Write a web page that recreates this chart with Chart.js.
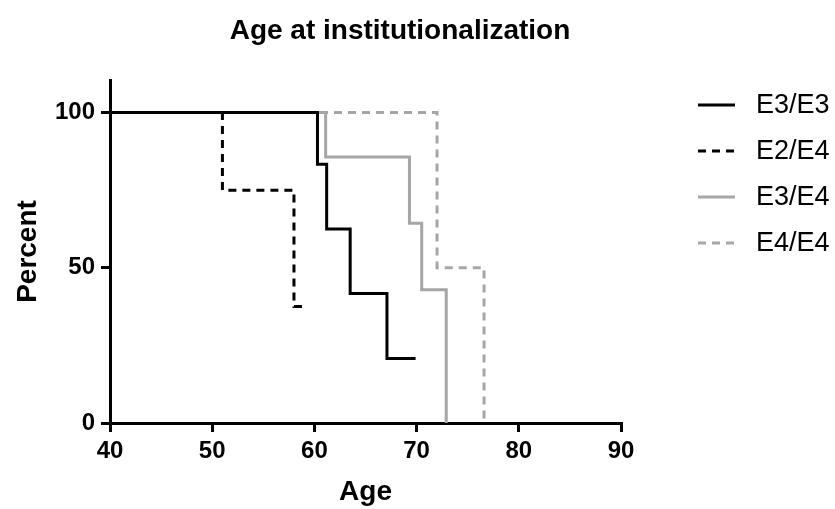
<!DOCTYPE html>
<html>
<head>
<meta charset="utf-8">
<script src="https://cdn.jsdelivr.net/npm/chart.js@4"></script>
<style>
  html, body { margin: 0; padding: 0; background: #fff; }
  #wrap { width: 835px; height: 509px; position: relative; }
</style>
</head>
<body>
<div id="wrap"><canvas id="c"></canvas></div>
<script>
// Kaplan-Meier style step curves, age at institutionalization by APOE genotype

const seriesNames = ['E3/E3', 'E2/E4', 'E3/E4', 'E4/E4'];

const ageE3E3 = [40, 60.3, 61.2, 63.5, 67.1, 69.9];
const pctE3E3 = [100, 83.3, 62.5, 41.7, 20.8, 20.8];

const ageE2E4 = [40, 51.0, 58.0, 59.3];
const pctE2E4 = [100, 75, 37.5, 37.5];

const ageE3E4 = [40, 61.1, 69.3, 70.5, 72.9];
const pctE3E4 = [100, 85.7, 64.3, 42.9, 0];

const ageE4E4 = [40, 72.0, 76.6];
const pctE4E4 = [100, 50, 0];

const xTicks = [40, 50, 60, 70, 80, 90];
const yTicks = [0, 50, 100];

const FONT = "'Liberation Sans', Arial, Helvetica, sans-serif";

const toPoints = (xs, ys) => xs.map((x, i) => ({ x, y: ys[i] }));

const styles = [
  { color: '#000000', dash: [] },
  { color: '#000000', dash: [8, 6] },
  { color: '#a6a6a6', dash: [] },
  { color: '#a6a6a6', dash: [8, 6] },
];

const seriesData = [
  toPoints(ageE3E3, pctE3E3),
  toPoints(ageE2E4, pctE2E4),
  toPoints(ageE3E4, pctE3E4),
  toPoints(ageE4E4, pctE4E4),
];

// order: lower = drawn later (on top); E3/E3 solid black sits over the rest
const datasets = seriesNames.map((name, i) => ({
  label: name,
  data: seriesData[i],
  order: i,
  borderColor: styles[i].color,
  borderDash: styles[i].dash,
  borderWidth: 3,
  stepped: true,
  pointRadius: 0,
  fill: false,
  borderCapStyle: 'butt',
}));

// title + legend drawn by hand so they sit where the original has them
const decor = {
  id: 'decor',
  afterDraw(chart) {
    const ctx = chart.ctx;
    ctx.save();
    ctx.fillStyle = '#000';
    ctx.font = `bold 28px ${FONT}`;
    ctx.textAlign = 'center';
    ctx.textBaseline = 'middle';
    ctx.fillText('Age at institutionalization', 400, 31);

    ctx.font = `27px ${FONT}`;
    ctx.textAlign = 'left';
    chart.data.datasets.forEach((ds, i) => {
      const y = 105 + i * 46;
      ctx.beginPath();
      ctx.setLineDash(ds.borderDash);
      ctx.strokeStyle = ds.borderColor;
      ctx.lineWidth = 3;
      ctx.moveTo(698, y);
      ctx.lineTo(735, y);
      ctx.stroke();
      ctx.setLineDash([]);
      ctx.fillText(ds.label, 756, y + 1);
    });
    ctx.restore();
  },
};

const axisCommon = {
  border: { display: true, color: '#000', width: 3 },
  grid: { drawOnChartArea: false, drawTicks: true, tickLength: 9, lineWidth: 3, color: '#000' },
};

new Chart(document.getElementById('c'), {
  type: 'line',
  data: { datasets },
  options: {
    responsive: true,
    maintainAspectRatio: false,
    animation: false,
    layout: { padding: { left: 8, right: 214, top: 80, bottom: 0 } },
    plugins: { legend: { display: false }, title: { display: false }, tooltip: { enabled: false } },
    scales: {
      x: {
        type: 'linear',
        min: 40,
        max: 90,
        ...axisCommon,
        afterBuildTicks: (s) => { s.ticks = xTicks.map(v => ({ value: v })); },
        afterFit: (s) => { s.height = 86; },
        ticks: { color: '#000', padding: 5, font: { family: FONT, size: 24, weight: 'bold' } },
        title: { display: true, text: 'Age', color: '#000', padding: { top: 0, bottom: 0 },
                 font: { family: FONT, size: 28, weight: 'bold' } },
      },
      y: {
        type: 'linear',
        min: 0,
        max: 110.47, // puts the 100 line on whole pixels so overlapping curves stay crisp
        ...axisCommon,
        afterBuildTicks: (s) => { s.ticks = yTicks.map(v => ({ value: v })); },
        afterFit: (s) => { s.width = 102; },
        ticks: { color: '#000', padding: 6, font: { family: FONT, size: 24, weight: 'bold' } },
        title: { display: true, text: 'Percent', color: '#000', padding: { top: 3, bottom: 0 },
                 font: { family: FONT, size: 28, weight: 'bold' } },
      },
    },
  },
  plugins: [decor],
});
</script>
</body>
</html>
